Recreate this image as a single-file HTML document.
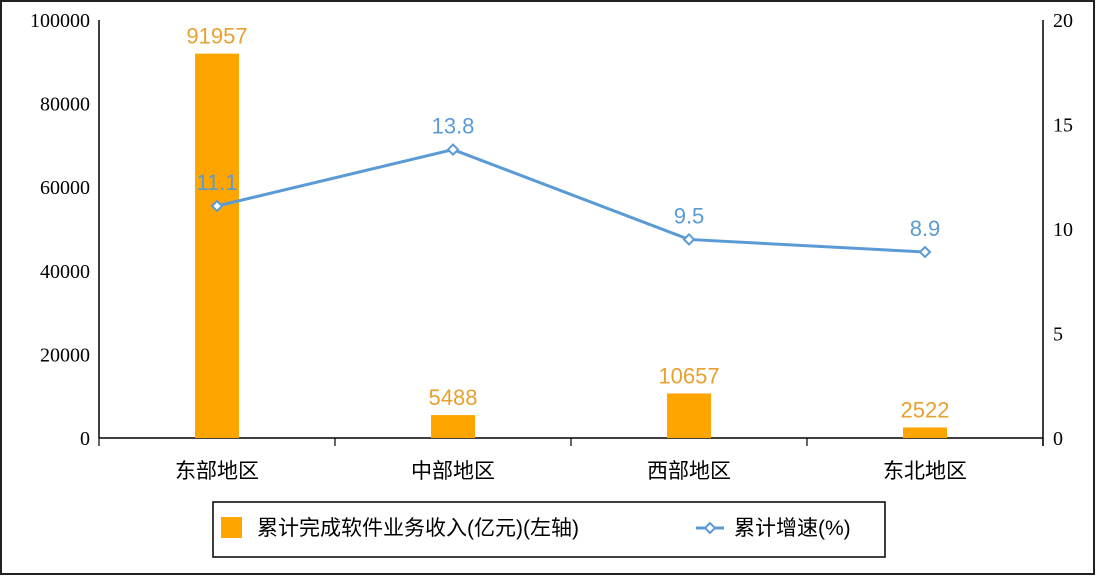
<!DOCTYPE html>
<html><head><meta charset="utf-8"><style>
body{margin:0;background:#fff}
svg{display:block}
text{font-family:"Liberation Serif","Noto Serif CJK SC",serif}
.cjk{font-family:"Liberation Sans","Noto Sans CJK SC",sans-serif}
</style></head><body>
<svg id="c" width="1096" height="576">
<rect x="1" y="1" width="1093" height="573" fill="#fff" stroke="#222" stroke-width="2"/>
<g id="g"></g>
</svg>
<script>
const categories=["东部地区","中部地区","西部地区","东北地区"];
const revenue=[91957,5488,10657,2522];
const growth=[11.1,13.8,9.5,8.9];
const leftTicks=[0,20000,40000,60000,80000,100000];
const rightTicks=[0,5,10,15,20];
const NS="http://www.w3.org/2000/svg";
const g=document.getElementById('g');
const X0=99,X1=1043,Y0=438,Y1=20;
const bw=(X1-X0)/categories.length;
const cx=i=>X0+bw*(i+0.5);
const yL=v=>Y0-(v/100000)*(Y0-Y1);
const yR=v=>Y0-(v/20)*(Y0-Y1);
function el(t,a,txt){const e=document.createElementNS(NS,t);for(const k in a)e.setAttribute(k,a[k]);if(txt!=null)e.textContent=txt;g.appendChild(e);return e;}
// axes
let e=el('line',{x1:X0,y1:Y1,x2:X0,y2:Y0,stroke:'#000','stroke-width':1.5});


e=el('line',{x1:X1,y1:Y1,x2:X1,y2:Y0+8,stroke:'#000','stroke-width':1.5});


e=el('line',{x1:X0,y1:Y0,x2:X1,y2:Y0,stroke:'#000','stroke-width':1.5});


for(let i=0;i<=categories.length;i++){
 e=el('line',{x1:X0+bw*i,y1:Y0,x2:X0+bw*i,y2:Y0+8,stroke:'#000','stroke-width':1.2});
 
 
}
leftTicks.forEach(v=>{
 e=el('text',{x:90,y:yL(v)+7,'text-anchor':'end','font-size':20,fill:'#000'},v);
 
 
});
rightTicks.forEach(v=>{
 e=el('text',{x:1053,y:yR(v)+7,'font-size':20,fill:'#000'},v);
 
 
});
categories.forEach((c,i)=>{
 e=el('text',{x:cx(i),y:478,'text-anchor':'middle','font-size':21,fill:'#000',class:'cjk'},c);
 
 
 const y=yL(revenue[i]);
 e=el('rect',{x:cx(i)-22,y:y,width:44,height:Y0-y,fill:'#FFA500'});
 
 
 e=el('text',{x:cx(i),y:y-10,'text-anchor':'middle','font-size':22,fill:'#E8A030',class:'cjk'},revenue[i]);
 
 
});
e=el('polyline',{points:growth.map((v,i)=>cx(i)+','+yR(v)).join(' '),fill:'none',stroke:'#5B9BD5','stroke-width':3});


growth.forEach((v,i)=>{
 const x=cx(i),y=yR(v);
 e=el('path',{d:`M${x-5},${y}L${x},${y-5}L${x+5},${y}L${x},${y+5}Z`,fill:'#fff',stroke:'#5B9BD5','stroke-width':2});
 
 
 e=el('text',{x:x,y:y-16,'text-anchor':'middle','font-size':22,fill:'#5B9BD5',class:'cjk'},v.toFixed(1));
 
 
});
// legend
e=el('rect',{x:213,y:502,width:672,height:55,fill:'#fff',stroke:'#000','stroke-width':1.5});


e=el('rect',{x:221,y:517,width:21,height:21,fill:'#FFA500'});


e=el('text',{x:257,y:535,'font-size':21,fill:'#000',class:'cjk'},'累计完成软件业务收入(亿元)(左轴)');


e=el('line',{x1:696,y1:528,x2:724,y2:528,stroke:'#5B9BD5','stroke-width':3});


e=el('path',{d:'M705,528L710,523L715,528L710,533Z',fill:'#fff',stroke:'#5B9BD5','stroke-width':2});


e=el('text',{x:734,y:535,'font-size':21,fill:'#000',class:'cjk'},'累计增速(%)');


</script>
</body></html>
